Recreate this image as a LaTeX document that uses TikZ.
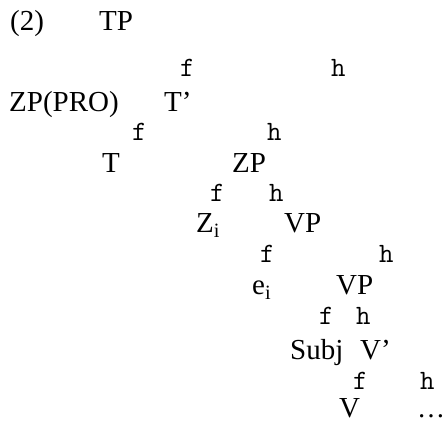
\documentclass[tikz,border=0pt]{standalone}
\usepackage{fontspec}
\setmainfont{Liberation Serif}
\begin{document}
\begin{tikzpicture}[x=1pt,y=1pt,
  lbl/.style={inner sep=0pt, anchor=base west, text depth=0pt, font=\fontsize{29}{33}\selectfont},
  br/.style={inner sep=0pt, anchor=base west, text depth=0pt, font=\ttfamily\fontsize{28}{32}\selectfont}]
\useasboundingbox (0,0) rectangle (445,423);
% row 1
\node[lbl] (num) at (10,392) {(2)};
\node[lbl] (tp) at (99,392) {TP};
\node[br] (f1) at (180,346) {f};
\node[br] (h1) at (331,346) {h};
% row 3
\node[lbl] (zppro) at (9,311) {ZP(PRO)};
\node[lbl] (tbar) at (164,311) {T’};
\node[br] (f2) at (132,282) {f};
\node[br] (h2) at (267,282) {h};
% row 5
\node[lbl] (t) at (102,250) {T};
\node[lbl] (zp) at (232,250) {ZP};
\node[br] (f3) at (210,221) {f};
\node[br] (h3) at (269,221) {h};
% row 7
\node[lbl] (zi) at (196,190) {Z\textsubscript{i}};
\node[lbl] (vp1) at (284,190) {VP};
\node[br] (f4) at (260,160) {f};
\node[br] (h4) at (379,160) {h};
% row 9
\node[lbl] (ei) at (252,128) {e\textsubscript{i}};
\node[lbl] (vp2) at (336,128) {VP};
\node[br] (f5) at (319,98) {f};
\node[br] (h5) at (356,98) {h};
% row 11
\node[lbl] (subj) at (290,63) {Subj};
\node[lbl] (vbar) at (360,63) {V’};
\node[br] (f6) at (353,33) {f};
\node[br] (h6) at (420,33) {h};
% row 13
\node[lbl] (v) at (339,5) {V};
\node[lbl, font=\fontsize{28}{32}\selectfont] (dots) at (417,5) {…};
\end{tikzpicture}
\end{document}
